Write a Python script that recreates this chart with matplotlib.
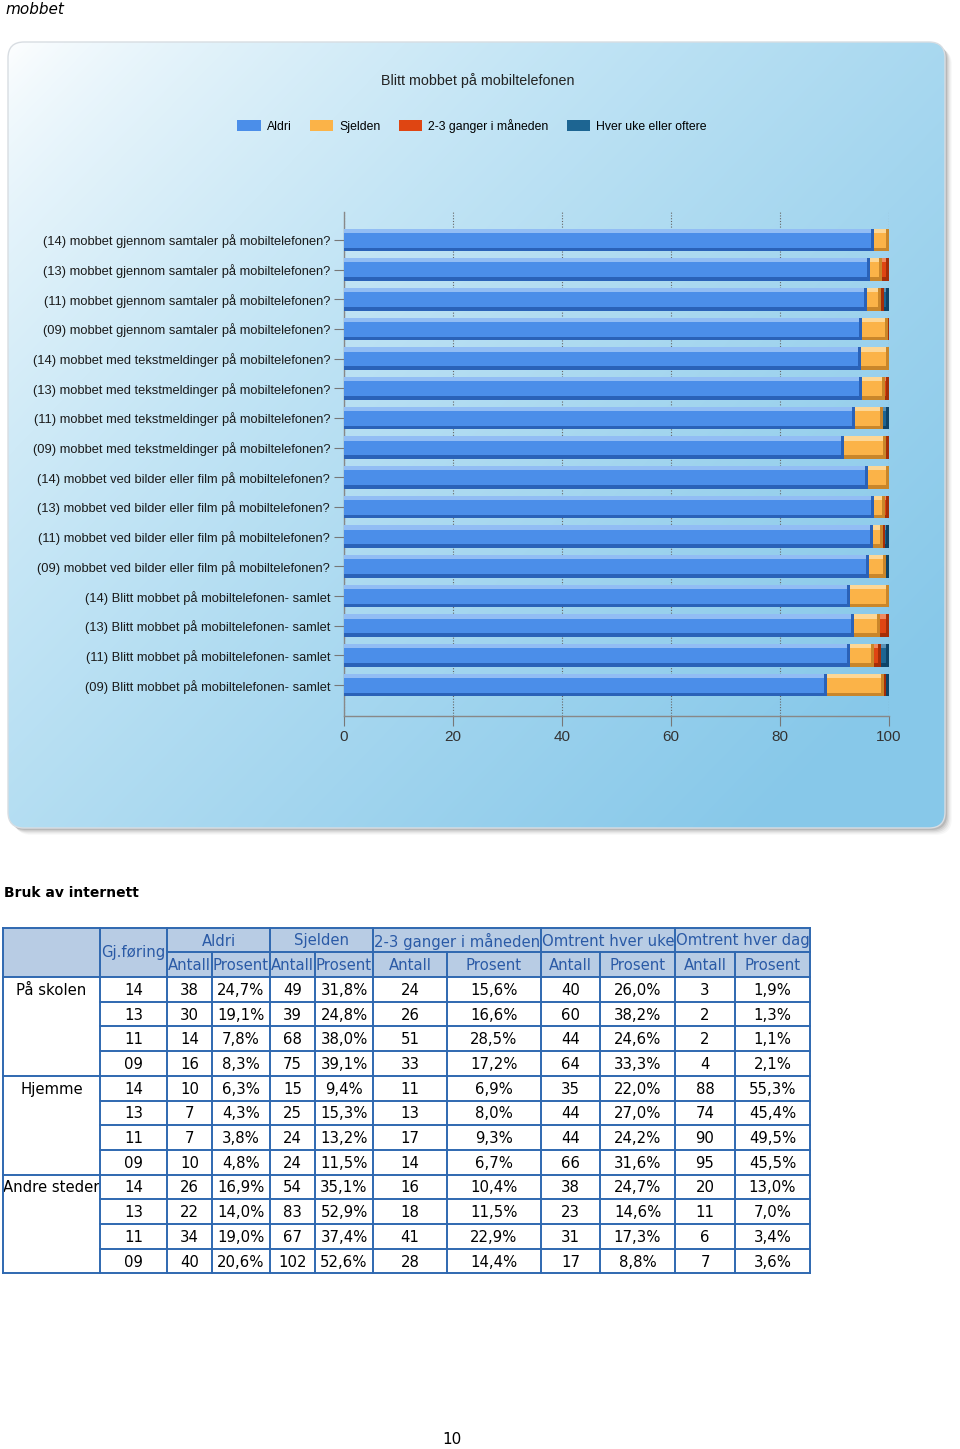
import numpy as np
import matplotlib
matplotlib.use("Agg")
import matplotlib.pyplot as plt
from matplotlib.patches import FancyBboxPatch, Rectangle, Patch

# ---------------- data ----------------
categories = [
    "(14) mobbet gjennom samtaler på mobiltelefonen?",
    "(13) mobbet gjennom samtaler på mobiltelefonen?",
    "(11) mobbet gjennom samtaler på mobiltelefonen?",
    "(09) mobbet gjennom samtaler på mobiltelefonen?",
    "(14) mobbet med tekstmeldinger på mobiltelefonen?",
    "(13) mobbet med tekstmeldinger på mobiltelefonen?",
    "(11) mobbet med tekstmeldinger på mobiltelefonen?",
    "(09) mobbet med tekstmeldinger på mobiltelefonen?",
    "(14) mobbet ved bilder eller film på mobiltelefonen?",
    "(13) mobbet ved bilder eller film på mobiltelefonen?",
    "(11) mobbet ved bilder eller film på mobiltelefonen?",
    "(09) mobbet ved bilder eller film på mobiltelefonen?",
    "(14) Blitt mobbet på mobiltelefonen- samlet",
    "(13) Blitt mobbet på mobiltelefonen- samlet",
    "(11) Blitt mobbet på mobiltelefonen- samlet",
    "(09) Blitt mobbet på mobiltelefonen- samlet",
]
aldri     = [97.3, 96.5, 95.9, 95.0, 94.8, 95.1, 93.8, 91.7, 96.2, 97.2, 97.0, 96.4, 92.8, 93.6, 92.8, 88.7]
sjelden   = [2.7, 2.3, 2.6, 4.8, 5.2, 4.2, 5.1, 7.7, 3.8, 2.1, 1.9, 3.0, 7.2, 4.8, 4.4, 10.3]
ganger23  = [0.0, 1.2, 0.5, 0.2, 0.0, 0.7, 0.0, 0.6, 0.0, 0.7, 0.3, 0.0, 0.0, 1.6, 1.3, 0.5]
hver_uke  = [0.0, 0.0, 1.0, 0.0, 0.0, 0.0, 1.1, 0.0, 0.0, 0.0, 0.8, 0.6, 0.0, 0.0, 1.5, 0.5]
series_names = ["Aldri", "Sjelden", "2-3 ganger i måneden", "Hver uke eller oftere"]
x_ticks = [0, 20, 40, 60, 80, 100]

chart_title = "Blitt mobbet på mobiltelefonen"

# table data
groups = ["På skolen", "Hjemme", "Andre steder"]
gjforing = ["14", "13", "11", "09"]
header_top = ["Aldri", "Sjelden", "2-3 ganger i måneden", "Omtrent hver uke", "Omtrent hver dag"]
aldri_antall   = [38, 30, 14, 16, 10, 7, 7, 10, 26, 22, 34, 40]
aldri_prosent  = ["24,7%", "19,1%", "7,8%", "8,3%", "6,3%", "4,3%", "3,8%", "4,8%", "16,9%", "14,0%", "19,0%", "20,6%"]
sjelden_antall = [49, 39, 68, 75, 15, 25, 24, 24, 54, 83, 67, 102]
sjelden_prosent = ["31,8%", "24,8%", "38,0%", "39,1%", "9,4%", "15,3%", "13,2%", "11,5%", "35,1%", "52,9%", "37,4%", "52,6%"]
g23_antall     = [24, 26, 51, 33, 11, 13, 17, 14, 16, 18, 41, 28]
g23_prosent    = ["15,6%", "16,6%", "28,5%", "17,2%", "6,9%", "8,0%", "9,3%", "6,7%", "10,4%", "11,5%", "22,9%", "14,4%"]
uke_antall     = [40, 60, 44, 64, 35, 44, 44, 66, 38, 23, 31, 17]
uke_prosent    = ["26,0%", "38,2%", "24,6%", "33,3%", "22,0%", "27,0%", "24,2%", "31,6%", "24,7%", "14,6%", "17,3%", "8,8%"]
dag_antall     = [3, 2, 2, 4, 88, 74, 90, 95, 20, 11, 6, 7]
dag_prosent    = ["1,9%", "1,3%", "1,1%", "2,1%", "55,3%", "45,4%", "49,5%", "45,5%", "13,0%", "7,0%", "3,4%", "3,6%"]

# ---------------- figure ----------------
W, H = 960, 1449
fig = plt.figure(figsize=(W / 100, H / 100), dpi=100)
fig.patch.set_facecolor("white")

page = fig.add_axes([0, 0, 1, 1])
page.set_xlim(0, W)
page.set_ylim(H, 0)
page.axis("off")

# page texts
page.text(5, 9, "mobbet", fontsize=11, style="italic", va="center", ha="left", color="black")
page.text(4, 893, "Bruk av internett", fontsize=10, fontweight="bold", va="center", ha="left")
page.text(452, 1440, "10", fontsize=11, va="center", ha="center")

# chart panel: shadow + gradient
px0, py0, px1, py1 = 8, 42, 945, 828
for i, a in enumerate([0.10, 0.08, 0.06, 0.04, 0.03]):
    off = 2 + i * 1.2
    sh = FancyBboxPatch((px0 + off, py0 + off), px1 - px0, py1 - py0,
                        boxstyle="round,pad=0,rounding_size=16",
                        facecolor="black", edgecolor="none", alpha=a, zorder=1)
    page.add_patch(sh)

panel = FancyBboxPatch((px0, py0), px1 - px0, py1 - py0,
                       boxstyle="round,pad=0,rounding_size=16",
                       facecolor="none", edgecolor="#d8dde2", linewidth=1.0, zorder=3)
page.add_patch(panel)
gx = np.linspace(0, 1, 300)
gy = np.linspace(0, 1, 260)
GX, GY = np.meshgrid(gx, gy)
t = np.clip(0.62 * GX + 0.5 * GY, 0, 1) ** 0.7
c0 = np.array([1.0, 1.0, 1.0])
c1 = np.array([0.76, 0.895, 0.96])
c2 = np.array([0.53, 0.785, 0.915])
img = np.where(t[..., None] < 0.5,
               c0 + (c1 - c0) * (t[..., None] / 0.5),
               c1 + (c2 - c1) * ((t[..., None] - 0.5) / 0.5))
im = page.imshow(img, extent=(px0, px1, py1, py0), aspect="auto", zorder=2, interpolation="bilinear")
clipper = FancyBboxPatch((px0, py0), px1 - px0, py1 - py0,
                         boxstyle="round,pad=0,rounding_size=16",
                         facecolor="none", edgecolor="none", transform=page.transData)
im.set_clip_path(clipper)

page.text(478, 81, chart_title, fontsize=10.3, ha="center", va="center",
          family="Liberation Sans", color="#222222", zorder=5)

# ---------------- bar chart ----------------
ax_l, ax_r, ax_t, ax_b = 344, 889, 212, 716
ax = fig.add_axes([ax_l / W, 1 - ax_b / H, (ax_r - ax_l) / W, (ax_b - ax_t) / H])
ax.set_facecolor("none")
ax.set_zorder(10)

n = len(categories)
ypos = np.arange(n)[::-1]  # first category at top
bh = 0.76
body = ["#4b8ee9", "#fbb348", "#df4512", "#1d6592"]
light = ["#92bdf4", "#fdd796", "#f08a60", "#5a93b8"]
dark = ["#2a62b8", "#c9862a", "#a52e08", "#0e4468"]
series = [aldri, sjelden, ganger23, hver_uke]

left = np.zeros(n)
for vals, cb, cl, cd in zip(series, body, light, dark):
    v = np.array(vals, dtype=float)
    ax.barh(ypos, v, left=left, height=bh, color=cb, edgecolor="none", zorder=3)
    # bevel: top light strip, bottom dark strip, right dark edge
    ax.barh(ypos + bh / 2 - 0.07, v, left=left, height=0.14, color=cl, edgecolor="none", zorder=4)
    ax.barh(ypos - bh / 2 + 0.06, v, left=left, height=0.12, color=cd, edgecolor="none", zorder=4)
    ew = np.minimum(v, 0.55)
    ax.barh(ypos, ew, left=left + v - ew, height=bh, color=cd, edgecolor="none", zorder=5)
    left = left + v

ax.set_xlim(0, 100)
ax.set_ylim(-1.04, n - 1 + 0.94)
ax.set_yticks(ypos)
ax.set_yticklabels(categories, fontsize=9.3, family="Liberation Sans", color="#1a1a1a")
ax.set_xticks(x_ticks)
ax.set_xticklabels([str(v) for v in x_ticks], fontsize=11, family="Liberation Sans", color="#333333")
ax.tick_params(axis="y", length=7, width=0.8, color="#777777", pad=3)
ax.tick_params(axis="x", length=7, width=0.8, color="#777777", pad=3)
for s in ["top", "right"]:
    ax.spines[s].set_visible(False)
for s in ["left", "bottom"]:
    ax.spines[s].set_color("#888888")
    ax.spines[s].set_linewidth(1.0)
ax.grid(axis="x", linestyle=(0, (1, 1.5)), color="#666666", linewidth=0.8, zorder=1)
ax.set_axisbelow(True)

handles = [Patch(facecolor=c, edgecolor="none") for c in body]
fig.legend(handles, series_names, loc="center", bbox_to_anchor=(472 / W, 1 - 126 / H),
           ncol=4, frameon=False, handlelength=1.9, handleheight=1.0,
           handletextpad=0.5, columnspacing=1.5, prop={"family": "Liberation Sans", "size": 8.8})

# ---------------- table ----------------
col_edges = [3, 100, 167, 212, 270, 315, 373, 447, 541, 600, 675, 735, 810]
hdr_y = [928, 952, 977]
row_h = 24.7
n_rows = 12
row_edges = [hdr_y[2] + i * row_h for i in range(n_rows + 1)]
tbl_bottom = row_edges[-1]
bcol = "#2f68b0"
hcol = "#2a5aa6"
lw = 1.4
fs = 10.7

page.add_patch(Rectangle((col_edges[0], hdr_y[0]), col_edges[-1] - col_edges[0], hdr_y[2] - hdr_y[0],
                         facecolor="#b8cce4", edgecolor="none", zorder=1))

# header texts
page.text((col_edges[1] + col_edges[2]) / 2, hdr_y[1], "Gj.føring", fontsize=fs, color=hcol,
          ha="center", va="center")
for g, name in enumerate(header_top):
    x0 = col_edges[2 + 2 * g]
    x1 = col_edges[4 + 2 * g]
    page.text((x0 + x1) / 2, (hdr_y[0] + hdr_y[1]) / 2 + 1, name, fontsize=fs, color=hcol,
              ha="center", va="center")
    for k, sub in enumerate(["Antall", "Prosent"]):
        a0 = col_edges[2 + 2 * g + k]
        a1 = col_edges[3 + 2 * g + k]
        page.text((a0 + a1) / 2, (hdr_y[1] + hdr_y[2]) / 2 + 1, sub, fontsize=fs, color=hcol,
                  ha="center", va="center")

# body texts
cols_data = [aldri_antall, aldri_prosent, sjelden_antall, sjelden_prosent, g23_antall, g23_prosent,
             uke_antall, uke_prosent, dag_antall, dag_prosent]
for r in range(n_rows):
    yc = (row_edges[r] + row_edges[r + 1]) / 2 + 1
    if r % 4 == 0:
        page.text((col_edges[0] + col_edges[1]) / 2, yc, groups[r // 4], fontsize=fs,
                  ha="center", va="center", color="black")
    page.text((col_edges[1] + col_edges[2]) / 2, yc, gjforing[r % 4], fontsize=fs,
              ha="center", va="center", color="black")
    for c, colvals in enumerate(cols_data):
        page.text((col_edges[2 + c] + col_edges[3 + c]) / 2, yc, str(colvals[r]), fontsize=fs,
                  ha="center", va="center", color="black")

# lines
def hline(y, x0, x1):
    page.plot([x0, x1], [y, y], color=bcol, lw=lw, solid_capstyle="projecting", zorder=3)

def vline(x, y0, y1):
    page.plot([x, x], [y0, y1], color=bcol, lw=lw, solid_capstyle="projecting", zorder=3)

hline(hdr_y[0], col_edges[0], col_edges[-1])
hline(hdr_y[1], col_edges[2], col_edges[-1])
hline(hdr_y[2], col_edges[0], col_edges[-1])
for r in range(1, n_rows + 1):
    x0 = col_edges[0] if (r % 4 == 0) else col_edges[1]
    hline(row_edges[r], x0, col_edges[-1])
for i, x in enumerate(col_edges):
    if i in (0, 1, 2, 4, 6, 8, 10, 12):
        vline(x, hdr_y[0], tbl_bottom)
    else:
        vline(x, hdr_y[1], tbl_bottom)

fig.savefig("out.png", dpi=100, facecolor="white")
